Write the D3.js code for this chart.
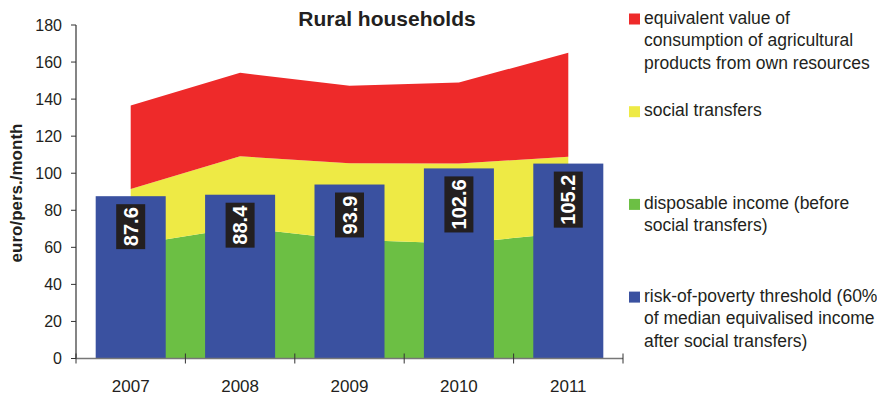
<!DOCTYPE html>
<meta charset="utf-8">
<style>
    body { margin: 0; background: #fff; }
    svg { display: block; font-family: "Liberation Sans", Arial, sans-serif; }
    .tick-label { font-size: 16px; fill: #231f20; }
    .legend text { font-size: 17.5px; fill: #231f20; }
</style>
<body>
<div id="chart"></div>
<script src="https://cdnjs.cloudflare.com/ajax/libs/d3/7.8.5/d3.min.js"></script>
<script>
    // values (euro/pers./month)
    var years = ["2007", "2008", "2009", "2010", "2011"];
    var disposableIncome = [61.3, 70.7, 64.1, 62.1, 67.9];
    var socialTransfers = [30.2, 38.4, 41.3, 43.2, 41.0];
    var ownConsumption = [45.1, 45.1, 41.8, 43.7, 56.1];
    var povertyThreshold = [87.6, 88.4, 93.9, 102.6, 105.2];
    var yTicks = [0, 20, 40, 60, 80, 100, 120, 140, 160, 180];

    var seriesKeys = ["income", "transfers", "consumption"];
    var seriesColors = {income: "#6cbf44", transfers: "#eeea45", consumption: "#ee2a2a"};
    var legendItems = [
        {color: "#ee2a2a", lines: ["equivalent value of", "consumption of agricultural", "products from own resources"]},
        {color: "#eeea45", lines: ["social transfers"]},
        {color: "#6cbf44", lines: ["disposable income (before", "social transfers)"]},
        {color: "#3a51a0", lines: ["risk-of-poverty threshold (60%", "of median equivalised income", "after social transfers)"]}
    ];

    var width = 877, height = 395;
    var svg = d3.select("#chart").append("svg")
        .attr("width", width)
        .attr("height", height);

    var x = d3.scaleBand().domain(years).range([76, 623]).padding(0);
    var y = d3.scaleLinear().domain([0, 180]).range([358.5, 25]);
    var cx = function(yr) { return x(yr) + x.bandwidth() / 2; };

    // stacked areas
    var table = years.map(function(yr, i) {
        return {year: yr, income: disposableIncome[i], transfers: socialTransfers[i], consumption: ownConsumption[i]};
    });
    var stacked = d3.stack().keys(seriesKeys)(table);
    var area = d3.area()
        .x(function(d) { return cx(d.data.year); })
        .y0(function(d) { return y(d[0]); })
        .y1(function(d) { return y(d[1]); });

    svg.append("g").selectAll("path")
        .data(stacked)
        .enter().append("path")
        .attr("d", area)
        .attr("fill", function(d) { return seriesColors[d.key]; });

    // bars
    var barW = x.bandwidth() * 0.64;
    var bars = svg.append("g").selectAll("g")
        .data(years.map(function(yr, i) { return {year: yr, value: povertyThreshold[i]}; }))
        .enter().append("g");

    bars.append("rect")
        .attr("x", function(d) { return cx(d.year) - barW / 2; })
        .attr("y", function(d) { return y(d.value); })
        .attr("width", barW)
        .attr("height", function(d) { return y(0) - y(d.value); })
        .attr("fill", "#3a51a0");

    // rotated value labels on dark boxes
    bars.each(function(d) {
        var g = d3.select(this);
        var top = y(d.value) + 8;
        var t = g.append("text")
            .attr("transform", "translate(" + (cx(d.year) + 7) + "," + (top + 3) + ") rotate(-90)")
            .attr("text-anchor", "end")
            .attr("font-size", 20)
            .attr("font-weight", "bold")
            .attr("fill", "#fff")
            .text(d.value.toFixed(1));
        var len = t.node().getComputedTextLength();
        g.insert("rect", "text")
            .attr("x", cx(d.year) - 14.5)
            .attr("y", top)
            .attr("width", 29)
            .attr("height", len + 6)
            .attr("fill", "#231f20");
    });

    // y axis
    var yAxis = svg.append("g");
    yAxis.append("line")
        .attr("x1", 76).attr("x2", 76)
        .attr("y1", y(180)).attr("y2", y(0))
        .attr("stroke", "#333").attr("stroke-width", 1.2);
    yAxis.selectAll(".yt").data(yTicks).enter().append("line")
        .attr("x1", 71).attr("x2", 76)
        .attr("y1", function(d) { return y(d); })
        .attr("y2", function(d) { return y(d); })
        .attr("stroke", "#333");
    yAxis.selectAll("text").data(yTicks).enter().append("text")
        .attr("class", "tick-label")
        .attr("x", 62)
        .attr("y", function(d) { return y(d); })
        .attr("dy", "0.36em")
        .attr("text-anchor", "end")
        .text(function(d) { return d; });

    // x axis
    var xAxis = svg.append("g");
    xAxis.append("line")
        .attr("x1", 76).attr("x2", 623)
        .attr("y1", y(0)).attr("y2", y(0))
        .attr("stroke", "#777").attr("stroke-width", 1.5);
    var edges = years.map(function(yr) { return x(yr); }).concat([x(years[years.length - 1]) + x.bandwidth()]);
    xAxis.selectAll(".xt").data(edges).enter().append("line")
        .attr("x1", function(d) { return d; })
        .attr("x2", function(d) { return d; })
        .attr("y1", y(0) - 5).attr("y2", y(0) + 5)
        .attr("stroke", "#333");
    xAxis.selectAll("text").data(years).enter().append("text")
        .attr("class", "tick-label")
        .attr("x", cx)
        .attr("y", 391.5)
        .attr("text-anchor", "middle")
        .style("font-size", "17px")
        .text(function(d) { return d; });

    // titles
    svg.append("text")
        .attr("x", 387).attr("y", 26)
        .attr("text-anchor", "middle")
        .attr("font-size", 21)
        .attr("font-weight", "bold")
        .attr("fill", "#231f20")
        .text("Rural households");

    svg.append("text")
        .attr("transform", "translate(21.5,193) rotate(-90)")
        .attr("text-anchor", "middle")
        .attr("font-size", 17)
        .attr("font-weight", "bold")
        .attr("fill", "#231f20")
        .text("euro/pers./month");

    // legend
    var legend = svg.append("g").attr("class", "legend");
    legendItems.forEach(function(item, i) {
        var base = 23.5 + i * 92.7;
        legend.append("rect")
            .attr("x", 629).attr("y", base - 10)
            .attr("width", 11).attr("height", 11)
            .attr("fill", item.color);
        legend.append("text")
            .selectAll("tspan").data(item.lines).enter().append("tspan")
            .attr("x", 644)
            .attr("y", function(d, j) { return base + j * 22.5; })
            .text(function(d) { return d; });
    });
</script>
</body>
